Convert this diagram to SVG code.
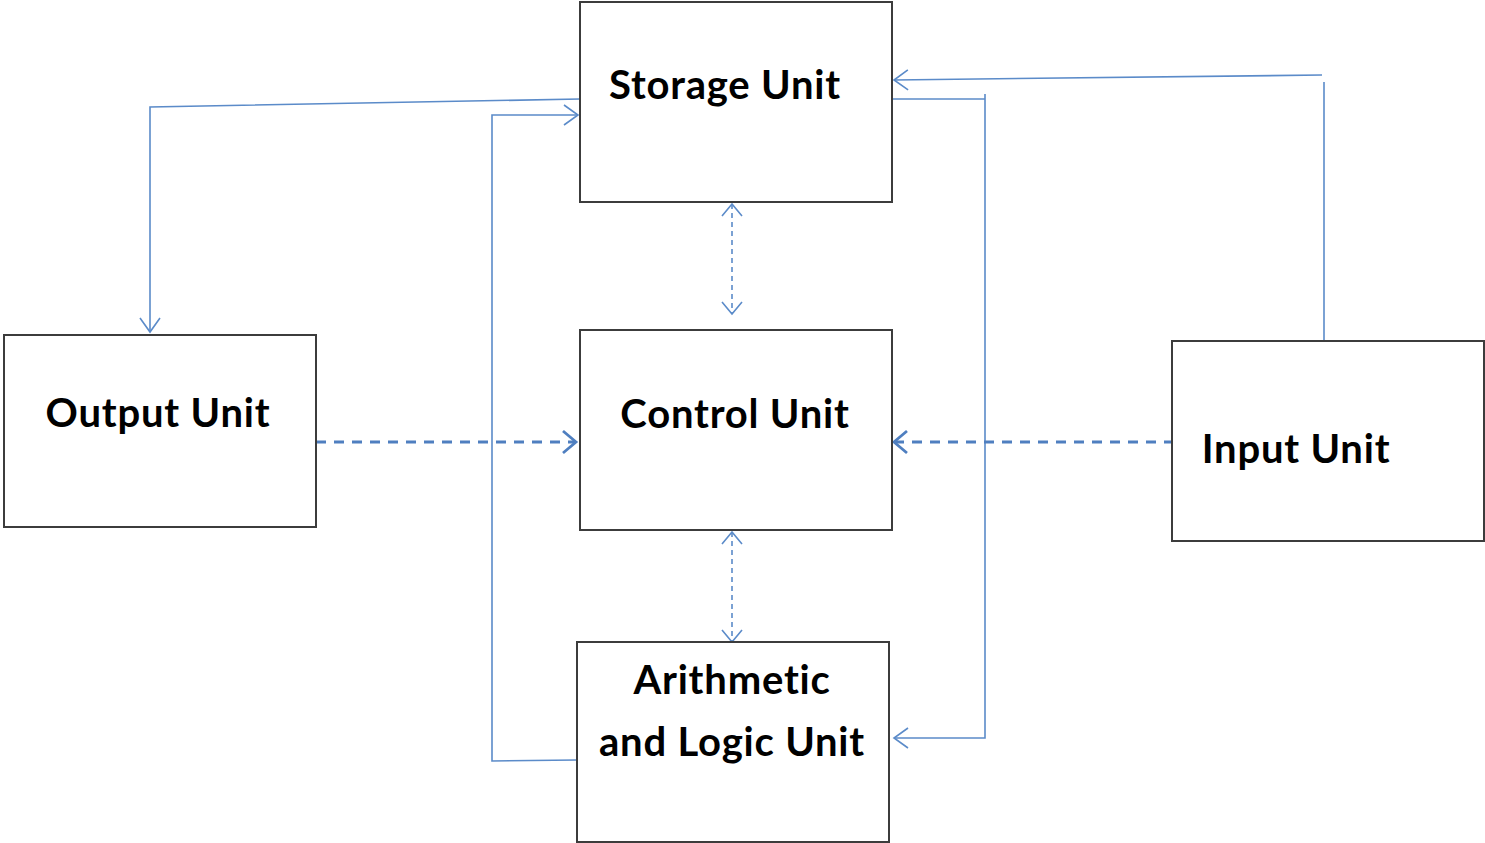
<svg xmlns="http://www.w3.org/2000/svg" width="1485" height="843" viewBox="0 0 1485 843">
<style>
.box{fill:#fff;stroke:#3c3c3c;stroke-width:2}
.lbl{font-family:Lato,"Liberation Sans",sans-serif;font-weight:bold;font-size:40px;letter-spacing:0.8px;font-variant-ligatures:none;fill:#000;text-anchor:middle}
.ln{fill:none;stroke:#5b8bc9;stroke-width:1.6}
.dot{fill:none;stroke:#5b8bc9;stroke-width:1.6;stroke-dasharray:5,4}
.dash{fill:none;stroke:#4f7fc0;stroke-width:2.8;stroke-dasharray:10,8}
</style>
<defs>
<marker id="av" markerUnits="userSpaceOnUse" markerWidth="30" markerHeight="30" refX="14" refY="10" orient="auto" overflow="visible">
<path d="M0,0 L14,10 L0,20" fill="none" stroke="#5b8bc9" stroke-width="1.6"/>
</marker>
<marker id="as" markerUnits="userSpaceOnUse" markerWidth="30" markerHeight="30" refX="12" refY="10" orient="auto-start-reverse" overflow="visible">
<path d="M0,0 L12,10 L0,20" fill="none" stroke="#5b8bc9" stroke-width="1.6"/>
</marker>
<marker id="ad" markerUnits="userSpaceOnUse" markerWidth="30" markerHeight="30" refX="16" refY="11" orient="auto" overflow="visible">
<path d="M3,0 L16,11 L3,22" fill="none" stroke="#4f7fc0" stroke-width="2.8"/>
</marker>
</defs>
<g id="connectors">
<polyline class="ln" points="580,99 150,107 150,332" marker-end="url(#av)"/>
<polyline class="ln" points="577,760 492,761 492,115 578,115" marker-end="url(#av)"/>
<polyline class="ln" points="1324,341 1324,82"/>
<polyline class="ln" points="1322,75 894,80" marker-end="url(#av)"/>
<polyline class="ln" points="892,99 985,99"/>
<polyline class="ln" points="985,94 985,738 894,738" marker-end="url(#av)"/>
<line class="dot" x1="732" y1="204" x2="732" y2="314" marker-start="url(#as)" marker-end="url(#as)"/>
<line class="dot" x1="732" y1="532" x2="732" y2="642" marker-start="url(#as)" marker-end="url(#as)"/>
<line class="dash" x1="316" y1="442" x2="576" y2="442" marker-end="url(#ad)"/>
<line class="dash" x1="1174" y1="442" x2="894" y2="442" marker-end="url(#ad)"/>
</g>
<g id="storage"><rect class="box" x="580" y="2" width="312" height="200"/><text class="lbl" x="725" y="99">Storage Unit</text></g>
<g id="control"><rect class="box" x="580" y="330" width="312" height="200"/><text class="lbl" x="735" y="428">Control Unit</text></g>
<g id="output"><rect class="box" x="4" y="335" width="312" height="192"/><text class="lbl" x="158" y="427">Output Unit</text></g>
<g id="input"><rect class="box" x="1172" y="341" width="312" height="200"/><text class="lbl" x="1296" y="463">Input Unit</text></g>
<g id="alu"><rect class="box" x="577" y="642" width="312" height="200"/><text class="lbl" x="732" y="694">Arithmetic</text><text class="lbl" x="732" y="756">and Logic Unit</text></g>
</svg>
